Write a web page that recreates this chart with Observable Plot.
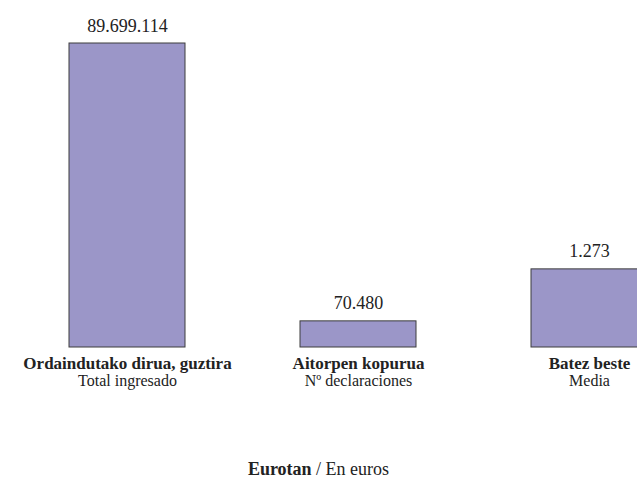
<!DOCTYPE html>
<html>
<head>
<meta charset="utf-8">
<script src="https://cdn.jsdelivr.net/npm/d3@7"></script>
<script src="https://cdn.jsdelivr.net/npm/@observablehq/plot@0.6"></script>
<style>
  html, body { margin: 0; padding: 0; background: #fff; overflow: hidden; }
  #chart { width: 637px; height: 478px; position: relative; }
  #caption { font-family: "Liberation Serif", "DejaVu Serif", serif; font-size: 18px; line-height: 20px; text-align: center; color: #222; margin-top: 4px; }
</style>
</head>
<body>
<div id="chart"></div>
<script>
// Basque category labels (bold) and Spanish sublabels
const categoriesEu = ["Ordaindutako dirua, guztira", "Aitorpen kopurua", "Batez beste"];
const categoriesEs = ["Total ingresado", "Nº declaraciones", "Media"];
// Values as printed on the chart
const values = [89699114, 70480, 1273];
const valueLabels = ["89.699.114", "70.480", "1.273"];
// Visual bar length (% of the tallest bar; bars are not on a shared scale)
const barLength = [100, 8.6, 25.7];

const data = categoriesEu.map((c, i) => ({
  eu: c, es: categoriesEs[i], value: values[i], label: valueLabels[i], len: barLength[i]
}));

const font = '"Liberation Serif", "DejaVu Serif", serif';

const plot = Plot.plot({
  width: 637,
  height: 455,
  style: { fontFamily: font, fontSize: "18px", color: "#222", background: "#fff" },
  x: { domain: categoriesEu, range: [11.5, 704.5], paddingInner: 0.5, paddingOuter: 0.25, axis: null },
  y: { domain: [0, 100], range: [347, 43], axis: null },
  marks: [
    Plot.barY(data, { x: "eu", y: "len", fill: "#9b96c8", stroke: "#3c3c3c", strokeWidth: 1 }),
    Plot.text(data, { x: "eu", y: "len", text: "label", lineAnchor: "bottom", dy: -12, fontSize: 18, fontFamily: font, fill: "#222" }),
    Plot.text(data, { x: "eu", y: () => 0, text: "eu", lineAnchor: "top", dy: 9, fontSize: 17, fontFamily: font, fontWeight: "bold", fill: "#222" }),
    Plot.text(data, { x: "eu", y: () => 0, text: "es", lineAnchor: "top", dy: 27.5, fontSize: 16, fontFamily: font, fill: "#222" })
  ]
});

const chart = document.getElementById("chart");
chart.appendChild(plot);
const cap = document.createElement("div");
cap.id = "caption";
cap.innerHTML = "<b>Eurotan</b> / En euros";
chart.appendChild(cap);
</script>
</body>
</html>
